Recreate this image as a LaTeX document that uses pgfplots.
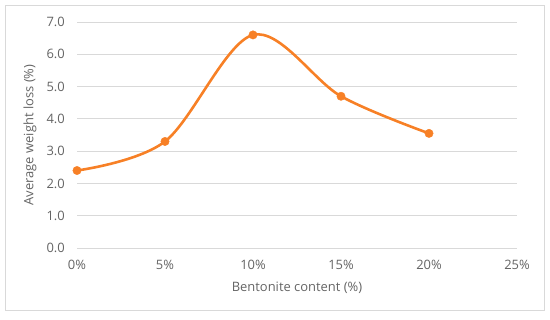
\documentclass[border=0pt]{standalone}
\usepackage{pgfplots}
\pgfplotsset{compat=1.18}
\usepackage{fontspec}
\setmainfont{Open Sans}
\definecolor{txt}{RGB}{100,100,100}
\definecolor{grd}{RGB}{217,217,217}
\definecolor{org}{RGB}{247,128,38}
\begin{document}
\begin{tikzpicture}
\useasboundingbox (0,0) rectangle (550bp,320bp);
\draw[grd, line width=0.75bp] (5.5bp,9.5bp) rectangle (544.5bp,314.5bp);
\begin{axis}[
  at={(77bp,72bp)}, anchor=south west,
  scale only axis, width=440bp, height=226bp,
  xmin=0, xmax=25, ymin=0, ymax=7,
  xtick={0,5,10,15,20,25},
  xticklabels={0\%,5\%,10\%,15\%,20\%,25\%},
  ytick={0,1,2,3,4,5,6,7},
  yticklabel style={/pgf/number format/.cd, fixed, fixed zerofill, precision=1, /tikz/.cd, anchor=east, inner sep=0pt, xshift=-12bp},
  /pgf/number format/assume math mode=true,
  ymajorgrids, major grid style={grd, line width=0.75bp},
  axis line style={draw=none},
  major tick length=0pt,
  tick label style={font=\fontsize{13}{15}\selectfont, text=txt},
  xticklabel style={anchor=center, yshift=-17bp},
  xlabel={Bentonite content (\%)},
  ylabel={Average weight loss (\%)},
  label style={font=\fontsize{13}{15}\selectfont, text=txt},
  xlabel style={at={(axis description cs:0.5,0)}, anchor=center, yshift=-40bp},
  ylabel style={at={(axis description cs:0,0.5)}, anchor=center, yshift=47bp},
  clip=false,
]
\addplot[org, line width=2.6bp, smooth, tension=0.55, mark=*, mark size=4.2bp, mark options={fill=org, draw=org, line width=0.4bp}] coordinates {
  (0,2.4) (5,3.3) (10,6.6) (15,4.7) (20,3.55)
};
\end{axis}
\end{tikzpicture}
\end{document}
